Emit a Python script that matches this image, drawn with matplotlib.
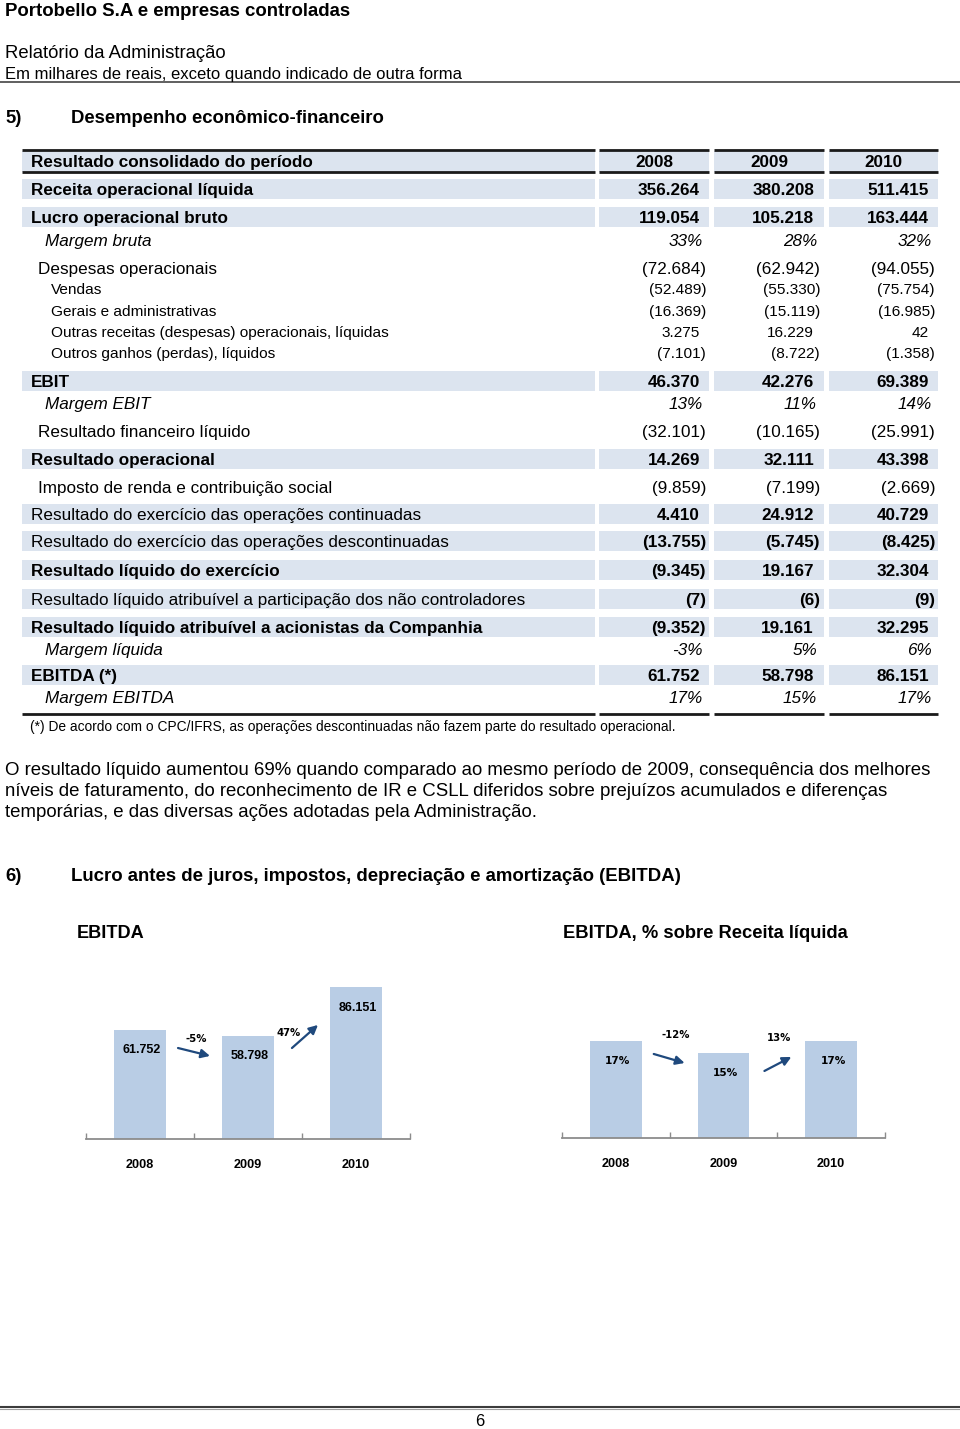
"""Portobello - relatório da administração, página 6."""

import matplotlib
matplotlib.use('Agg')
import matplotlib.pyplot as plt
from matplotlib.patches import Rectangle
from matplotlib.transforms import blended_transform_factory

plt.rcParams['font.family'] = ['Liberation Sans', 'DejaVu Sans']

# ---- data ----
years = ['2008', '2009', '2010']

row_labels = [
    'Receita operacional líquida',
    'Lucro operacional bruto',
    'Margem bruta',
    'Despesas operacionais',
    'Vendas',
    'Gerais e administrativas',
    'Outras receitas (despesas) operacionais, líquidas',
    'Outros ganhos (perdas), líquidos',
    'EBIT',
    'Margem EBIT',
    'Resultado financeiro líquido',
    'Resultado operacional',
    'Imposto de renda e contribuição social',
    'Resultado do exercício das operações continuadas',
    'Resultado do exercício das operações descontinuadas',
    'Resultado líquido do exercício',
    'Resultado líquido atribuível a participação dos não controladores',
    'Resultado líquido atribuível a acionistas da Companhia',
    'Margem líquida',
    'EBITDA (*)',
    'Margem EBITDA',
]
values_2008 = [356264, 119054, 33, -72684, -52489, -16369, 3275, -7101,
               46370, 13, -32101, 14269, -9859, 4410, -13755, -9345, -7,
               -9352, -3, 61752, 17]
values_2009 = [380208, 105218, 28, -62942, -55330, -15119, 16229, -8722,
               42276, 11, -10165, 32111, -7199, 24912, -5745, 19167, -6,
               19161, 5, 58798, 15]
values_2010 = [511415, 163444, 32, -94055, -75754, -16985, 42, -1358,
               69389, 14, -25991, 43398, -2669, 40729, -8425, 32304, -9,
               32295, 6, 86151, 17]
row_kinds = ['total', 'total', 'margin', 'group', 'detail', 'detail',
             'detail', 'detail', 'total', 'margin', 'group', 'total',
             'group', 'subtotal', 'subtotal', 'total', 'subtotal', 'total',
             'margin', 'total', 'margin']

# EBITDA charts come from the same table
ebitda_row = row_labels.index('EBITDA (*)')
ebitda_values = [v[ebitda_row] for v in (values_2008, values_2009, values_2010)]
ebitda_margin = [v[ebitda_row + 1] for v in (values_2008, values_2009, values_2010)]

paragraph = [
    'O resultado líquido aumentou 69% quando comparado ao mesmo período de 2009, consequência dos melhores',
    'níveis de faturamento, do reconhecimento de IR e CSLL diferidos sobre prejuízos acumulados e diferenças',
    'temporárias, e das diversas ações adotadas pela Administração.',
]

# ---- layout ----
ROW_Y = [189, 217, 240, 268, 289, 311, 332, 353, 381, 403, 431, 459, 487,
         514, 541, 570, 599, 627, 649, 675, 697]
COLS = [(22, 595), (599, 709), (714, 824), (829, 938)]
VALUE_RIGHT = [706, 820, 935]
LABEL_X = {'total': 31, 'subtotal': 31, 'margin': 45, 'group': 38, 'detail': 51}
BAND = '#dce4ef'
BAR = '#b9cde5'
ARROW = '#1f497d'
FS = 12.3
DY = 1  # va='center' sits a touch high compared to the scan


def fmt_value(v, kind):
    if kind == 'margin':
        return f'{v}%'
    s = f'{abs(v):,}'.replace(',', '.')
    return f'({s})' if v < 0 else s


def band(ax, y, h=20):
    for x0, x1 in COLS:
        ax.add_patch(Rectangle((x0, y - h / 2), x1 - x0, h, color=BAND, lw=0))


def rule(ax, y, lw=2):
    for x0, x1 in COLS:
        ax.plot([x0, x1], [y, y], color='#1a1a1a', lw=lw, solid_capstyle='butt')


def put(ax, x, y, s, **kw):
    ax.text(x, y + DY, s, va='center', **kw)


def draw_table(ax):
    # header
    band(ax, 161, 21)
    rule(ax, 150)
    rule(ax, 172)
    put(ax, 31, 161, 'Resultado consolidado do período', fontsize=FS,
        fontweight='bold')
    for (x0, x1), yr in zip(COLS[1:], years):
        put(ax, (x0 + x1) / 2, 161, yr, fontsize=FS, fontweight='bold',
            ha='center')

    for i, (label, kind, y) in enumerate(zip(row_labels, row_kinds, ROW_Y)):
        vals = [values_2008[i], values_2009[i], values_2010[i]]
        if kind in ('total', 'subtotal'):
            band(ax, y)
        size = 11.1 if kind == 'detail' else FS
        lab_w = 'bold' if kind == 'total' else 'normal'
        val_w = 'bold' if kind in ('total', 'subtotal') else 'normal'
        style = 'italic' if kind == 'margin' else 'normal'
        put(ax, LABEL_X[kind], y, label, fontsize=size, fontweight=lab_w,
            fontstyle=style)
        for v, xr in zip(vals, VALUE_RIGHT):
            if kind == 'margin':
                xr -= 3
            elif v >= 0:
                xr -= 6
            put(ax, xr, y, fmt_value(v, kind), fontsize=size,
                fontweight=val_w, fontstyle=style, ha='right')

    rule(ax, 714)
    put(ax, 30, 726, '(*) De acordo com o CPC/IFRS, as operações descontinuadas '
        'não fazem parte do resultado operacional.', fontsize=9.9)


def bar_chart(fig, left, base, width, height, values, ymax, labels,
              label_font, arrows):
    """Bar chart placed in page pixels; arrows are (x0, y0, x1, y1, tx, ty)."""
    W, H = 960, 1429
    ax = fig.add_axes([left / W, (H - base) / H, width / W, height / H])
    x = range(len(values))
    ax.bar(x, values, width=0.48, color=BAR)
    ax.set_xlim(-0.5, 2.5)
    ax.set_ylim(0, ymax)
    for s in ('top', 'right', 'left'):
        ax.spines[s].set_visible(False)
    ax.spines['bottom'].set_color('#8c8c8c')
    ax.spines['bottom'].set_linewidth(1.3)
    ax.set_yticks([])
    ax.set_xticks([-0.5, 0.5, 1.5, 2.5])
    ax.set_xticklabels([])
    ax.tick_params(axis='x', which='major', direction='in', length=4,
                   color='#8c8c8c', width=1)
    ax.set_xticks(list(x), minor=True)
    ax.set_xticklabels(years, minor=True, fontsize=9.1, fontweight='bold')
    ax.tick_params(axis='x', which='minor', length=0, pad=14.5)
    for i, (v, lab) in enumerate(zip(values, labels)):
        ax.annotate(lab, xy=(i, v), xytext=(1.5, -14.5), textcoords='offset points',
                    ha='center', va='center', fontweight='bold', **label_font)
    trans = blended_transform_factory(ax.transData, ax.transAxes)
    for i, (x0, y0, x1, y1, tx, ty) in enumerate(arrows):
        change = round((values[i + 1] / values[i] - 1) * 100)
        ax.annotate('', xy=(x1, y1), xytext=(x0, y0), xycoords=trans,
                    textcoords=trans,
                    arrowprops=dict(arrowstyle='-|>', color=ARROW, lw=1.6,
                                    mutation_scale=13, shrinkA=0, shrinkB=0))
        ax.text(tx, ty, f'{change}%', transform=trans, ha='center',
                va='center', fontsize=7.3, fontweight='bold',
                family='DejaVu Sans')
    return ax


fig = plt.figure(figsize=(9.6, 14.29), dpi=100)
ax = fig.add_axes([0, 0, 1, 1])
ax.set_xlim(0, 960)
ax.set_ylim(1429, 0)
ax.axis('off')

# page header
put(ax, 5, 10, 'Portobello S.A e empresas controladas', fontsize=13.4,
    fontweight='bold')
put(ax, 5, 52, 'Relatório da Administração', fontsize=13.3)
put(ax, 5, 73, 'Em milhares de reais, exceto quando indicado de outra forma',
    fontsize=12.0)
ax.plot([0, 960], [82, 82], color='#444444', lw=1.2)

put(ax, 5, 117, '5)', fontsize=13.3, fontweight='bold')
put(ax, 71, 117, 'Desempenho econômico-financeiro', fontsize=13.3,
    fontweight='bold')

draw_table(ax)

for k, line in enumerate(paragraph):
    put(ax, 5, 769 + 21 * k, line, fontsize=13.4)

put(ax, 5, 875, '6)', fontsize=13.4, fontweight='bold')
put(ax, 71, 875, 'Lucro antes de juros, impostos, depreciação e amortização (EBITDA)',
    fontsize=13.4, fontweight='bold')
put(ax, 77, 932, 'EBITDA', fontsize=13.1, fontweight='bold')
put(ax, 563, 932, 'EBITDA, % sobre Receita líquida', fontsize=13.2,
    fontweight='bold')

ebitda_labels = [fmt_value(v, 'total') for v in ebitda_values]
bar_chart(fig, 86, 1139, 324, 176, ebitda_values, 100000, ebitda_labels,
          dict(fontsize=9, family='Liberation Sans'),
          [(0.352, 0.517, 0.648, 0.472, 0.519, 0.568),
           (1.407, 0.517, 1.648, 0.648, 1.380, 0.602)])

margin_labels = [f'{v}%' for v in ebitda_margin]
bar_chart(fig, 562, 1138, 323, 114, ebitda_margin, 20, margin_labels,
          dict(fontsize=7.6, family='DejaVu Sans'),
          [(0.352, 0.737, 0.639, 0.658, 0.556, 0.904),
           (1.380, 0.588, 1.630, 0.711, 1.519, 0.877)])

# footer
ax.plot([0, 960], [1407, 1407], color='#3c3c3c', lw=1.5)
ax.plot([0, 960], [1409, 1409], color='#a0a0a0', lw=0.8)
put(ax, 480, 1420, '6', fontsize=12, ha='center')

fig.savefig('out.png', dpi=100)
